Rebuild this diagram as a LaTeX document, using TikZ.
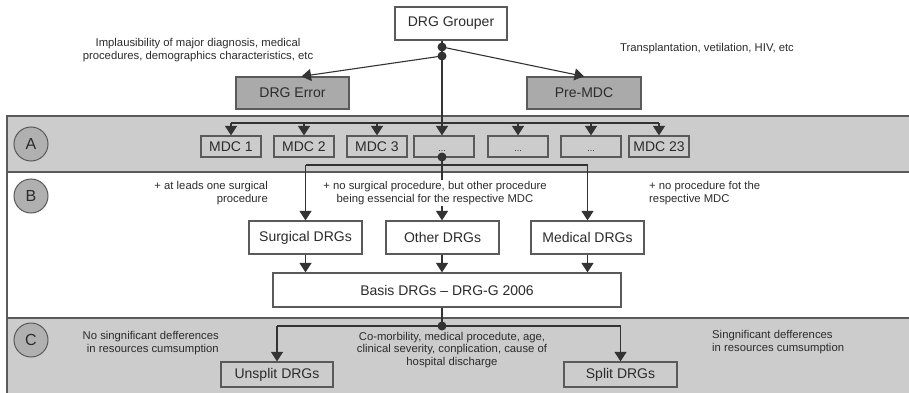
\documentclass[tikz,border=0pt]{standalone}
\usepackage{fontspec}
\setmainfont{Liberation Sans}
\usetikzlibrary{arrows.meta,calc}
\definecolor{bandgray}{HTML}{CCCCCC}
\definecolor{boxgray}{HTML}{AAAAAA}
\definecolor{circgray}{HTML}{B0B0B0}
\definecolor{linegray}{HTML}{5A5A5A}
\definecolor{wiregray}{HTML}{333333}
\definecolor{txt}{HTML}{2B2B2B}

\begin{document}
\begin{tikzpicture}[x=1pt,y=-1pt,
  stepbox/.style={draw=linegray, line width=1.2pt, fill=white, inner sep=0pt,
    font=\fontsize{14}{16}\selectfont, text=txt},
  darkbox/.style={stepbox, fill=boxgray},
  mdcbox/.style={stepbox, fill=bandgray, minimum width=60pt, minimum height=21pt},
  note/.style={font=\fontsize{11.3}{12.6}\selectfont, text=txt, inner sep=0pt},
  band/.style={draw=linegray, line width=1.1pt, fill=bandgray},
  tag/.style={circle, draw=linegray, line width=1pt, fill=circgray, minimum size=34pt,
    inner sep=0pt, font=\fontsize{16}{18}\selectfont, text=txt},
  wire/.style={draw=wiregray, line width=1.1pt},
  arr/.style={wire, -{Triangle[length=9.5pt,width=12pt]}},
  junction/.style={circle, fill=wiregray, minimum size=9pt, inner sep=0pt}]

\useasboundingbox (0,0) rectangle (909,393);

% horizontal bands A, B, C
\draw[band] (7,116) rectangle (912,172);
\draw[draw=linegray, line width=1.1pt] (7,172) -- (7,318);
\draw[band] (7,318) rectangle (912,396);

\node[tag] (tagA) at (31,144) {A};
\node[tag] (tagB) at (31,196) {B};
\node[tag] (tagC) at (31,340) {C};

% top level
\node[stepbox, minimum width=112pt, minimum height=33pt] (grouper) at (451,23.5) {DRG Grouper};
\node[darkbox, minimum width=113pt, minimum height=32pt] (err) at (292.5,93) {DRG Error};
\node[darkbox, minimum width=114pt, minimum height=32pt] (pre) at (584,93) {Pre-MDC};

\node[junction] (j1) at (442,47) {};
\node[junction] (j2) at (442,56) {};

\node[note, align=center] (noteErr) at (198,50)
  {Implausibility of major diagnosis, medical\\procedures, demographics characteristics, etc};
\node[note] (notePre) at (707,49) {Transplantation, vetilation, HIV, etc};

% MDC row
\node[mdcbox] (m1) at (231,146.5) {MDC 1};
\node[mdcbox] (m2) at (304,146.5) {MDC 2};
\node[mdcbox] (m3) at (377,146.5) {MDC 3};
\node[mdcbox] (m4) at (444,146.5) {};
\node[mdcbox] (m5) at (518,146.5) {};
\node[mdcbox] (m6) at (591,146.5) {};
\node[mdcbox] (m7) at (659,146.5) {MDC 23};
% small ellipses near the bottom of the unnamed MDC boxes
\node[note, font=\fontsize{9}{10}\selectfont, anchor=base] (e4) at ([yshift=6pt]m4.south -| 442,0) {...};
\node[note, font=\fontsize{9}{10}\selectfont, anchor=base] (e5) at ([yshift=6pt]m5.south) {...};
\node[note, font=\fontsize{9}{10}\selectfont, anchor=base] (e6) at ([yshift=6pt]m6.south) {...};

\coordinate (busA) at (0,123);
\node[junction] (j3) at (442,157) {};
\coordinate (busB) at (0,165);

% second level
\node[stepbox, minimum width=113pt, minimum height=33pt] (surg) at (305.5,237.5) {Surgical DRGs};
\node[stepbox, minimum width=113pt, minimum height=33pt] (other) at (442.5,237.5) {Other DRGs};
\node[stepbox, minimum width=113pt, minimum height=33pt] (med) at (587.5,237.5) {Medical DRGs};
\node[stepbox, minimum width=348pt, minimum height=34pt] (basis) at (447,290) {Basis DRGs -- DRG-G 2006};

% split level
\node[junction] (j4) at (442,326) {};
\node[stepbox, minimum width=112pt, minimum height=25pt, fill=bandgray] (unsplit) at (277,374.5) {Unsplit DRGs};
\node[stepbox, minimum width=113pt, minimum height=25pt, fill=bandgray] (split) at (620.5,374.5) {Split DRGs};

% connectors: grouper
\draw[wire] (grouper.south -| j1) -- (j1.center) -- (j2.center);
\draw[arr] (j1.center) -- (pre.north);
\draw[arr] (j2.center) -- ($(err.north)+(9,0)$);
\draw[arr] (j2.center) -- (m4.north -| j2);

% connectors: MDC distribution
\draw[wire] (m1.north |- busA) -- (m7.north |- busA);
\foreach \m in {m1,m2,m3,m5,m6,m7} {
  \draw[arr] (\m.north |- busA) -- (\m.north);
}

% connectors: DRG partition
\draw[wire] (surg.north |- busB) -- (med.north |- busB);
\draw[arr] (j3.center) -- (other.north -| j3);
\draw[arr] (surg.north |- busB) -- (surg.north);
\draw[arr] (med.north |- busB) -- (med.north);
\draw[arr] (surg.south) -- (surg.south |- basis.north);
\draw[arr] (other.south -| j3) -- (basis.north -| j3);
\draw[arr] (med.south) -- (med.south |- basis.north);

% connectors: split
\draw[wire] (basis.south -| j4) -- (j4.center);
\draw[wire] (unsplit.north |- j4) -- (split.north |- j4);
\draw[arr] (unsplit.north |- j4) -- (unsplit.north);
\draw[arr] (split.north |- j4) -- (split.north);

% annotations (drawn last so their white ground covers the wires)
\node[note, align=right, anchor=east] (noteSurg) at (268,193)
  {+ at leads one surgical\\procedure};
\node[note, align=center, fill=white, inner ysep=1.5pt] (noteOther) at (435,193)
  {+ no surgical procedure, but other procedure\\being essencial for the respective MDC};
\node[note, align=left, anchor=west] (noteMed) at (649,193)
  {+ no procedure fot the\\respective MDC};

\node[note, align=right, anchor=east] (noteUnsplit) at (219,343)
  {No singnificant defferences\\in resources cumsumption};
\node[note, align=center] (noteCause) at (452,350)
  {Co-morbility, medical procedute, age,\\clinical severity, conplication, cause of\\hospital discharge};
\node[note, align=left, anchor=west] (noteSplit) at (712,342)
  {Singnificant defferences\\in resources cumsumption};

\end{tikzpicture}
\end{document}
